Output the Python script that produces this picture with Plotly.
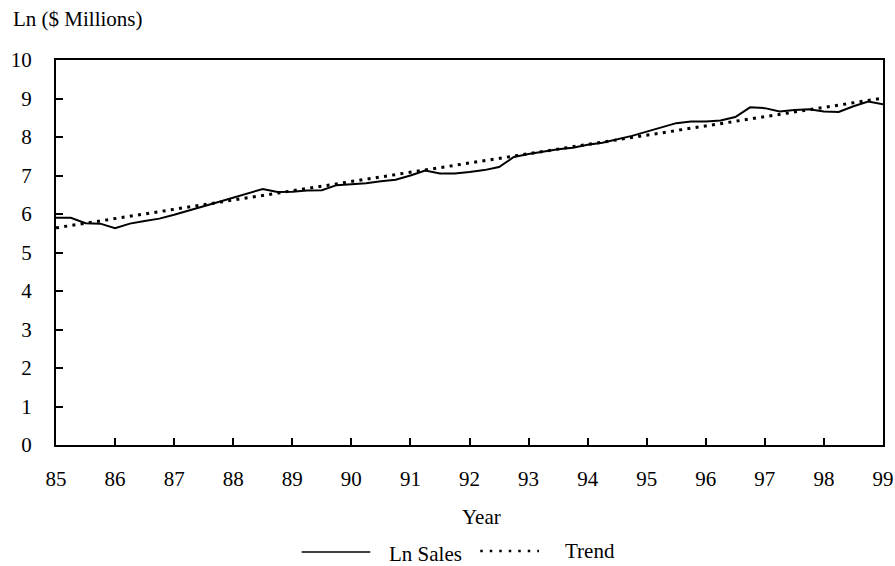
import plotly.graph_objects as go

# Quarterly log sales, 1985-1999
years = [85.00, 85.25, 85.50, 85.75, 86.00, 86.25, 86.50, 86.75,
         87.00, 87.25, 87.50, 87.75, 88.00, 88.25, 88.50, 88.75,
         89.00, 89.25, 89.50, 89.75, 90.00, 90.25, 90.50, 90.75,
         91.00, 91.25, 91.50, 91.75, 92.00, 92.25, 92.50, 92.75,
         93.00, 93.25, 93.50, 93.75, 94.00, 94.25, 94.50, 94.75,
         95.00, 95.25, 95.50, 95.75, 96.00, 96.25, 96.50, 96.75,
         97.00, 97.25, 97.50, 97.75, 98.00, 98.25, 98.50, 98.75,
         99.00]
ln_sales = [5.90, 5.90, 5.76, 5.75, 5.63, 5.75, 5.82, 5.88,
            5.98, 6.10, 6.20, 6.31, 6.42, 6.55, 6.65, 6.57,
            6.58, 6.61, 6.62, 6.75, 6.77, 6.80, 6.85, 6.89,
            7.00, 7.13, 7.05, 7.05, 7.09, 7.14, 7.22, 7.48,
            7.56, 7.62, 7.68, 7.72, 7.80, 7.85, 7.93, 8.03,
            8.14, 8.26, 8.36, 8.40, 8.40, 8.43, 8.52, 8.77,
            8.75, 8.66, 8.70, 8.72, 8.66, 8.65, 8.80, 8.92,
            8.85]

# Fitted linear trend (end points)
trend_years = [85, 99]
trend_vals = [5.64, 9.01]

x_ticks = list(range(85, 100))
y_ticks = list(range(0, 11))

FONT = "Liberation Serif"
FSIZE = 21

fig = go.Figure()
fig.add_trace(go.Scatter(x=years, y=ln_sales, mode="lines", name="Ln Sales",
                         line=dict(color="black", width=2), showlegend=False))
fig.add_trace(go.Scatter(x=trend_years, y=trend_vals, mode="lines", name="Trend",
                         line=dict(color="black", width=3, dash="3px,5.3px"),
                         showlegend=False))

axis_common = dict(showline=True, linecolor="black", linewidth=2, mirror=True,
                   showgrid=False, zeroline=False, ticks="inside", ticklen=7,
                   tickwidth=1.5, tickcolor="black", automargin=False,
                   ticklabeloverflow="allow",
                   tickfont=dict(family=FONT, size=FSIZE, color="black"))

fig.update_xaxes(range=[85, 99], tickvals=x_ticks, ticktext=[str(v) for v in x_ticks],
                 ticklabelstandoff=14, **axis_common)
fig.update_yaxes(range=[0, 10], tickvals=y_ticks, ticktext=[str(v) for v in y_ticks],
                 ticklabelstandoff=18, **axis_common)

# Legend drawn beneath the axis title
fig.add_shape(type="line", xref="paper", yref="paper", x0=0.297, x1=0.380,
              y0=-0.278, y1=-0.278, line=dict(color="black", width=1.5))
fig.add_shape(type="line", xref="paper", yref="paper", x0=0.513, x1=0.584,
              y0=-0.275, y1=-0.275,
              line=dict(color="black", width=2.5, dash="2.5px,7px"))

annotations = [
    dict(text="Ln ($ Millions)", x=-0.055, y=1.106, xanchor="left", yanchor="middle"),
    dict(text="Year", x=0.515, y=-0.187, xanchor="center", yanchor="middle"),
    dict(text="Ln Sales", x=0.400, y=-0.283, xanchor="left", yanchor="middle"),
    dict(text="Trend", x=0.613, y=-0.276, xanchor="left", yanchor="middle"),
]
for a in annotations:
    fig.add_annotation(xref="paper", yref="paper", showarrow=False,
                       font=dict(family=FONT, size=FSIZE, color="black"), **a)

fig.update_layout(width=895, height=566, plot_bgcolor="white", paper_bgcolor="white",
                  margin=dict(l=56, r=12, t=60, b=121, autoexpand=False),
                  showlegend=False)

fig.write_html("out.html")
